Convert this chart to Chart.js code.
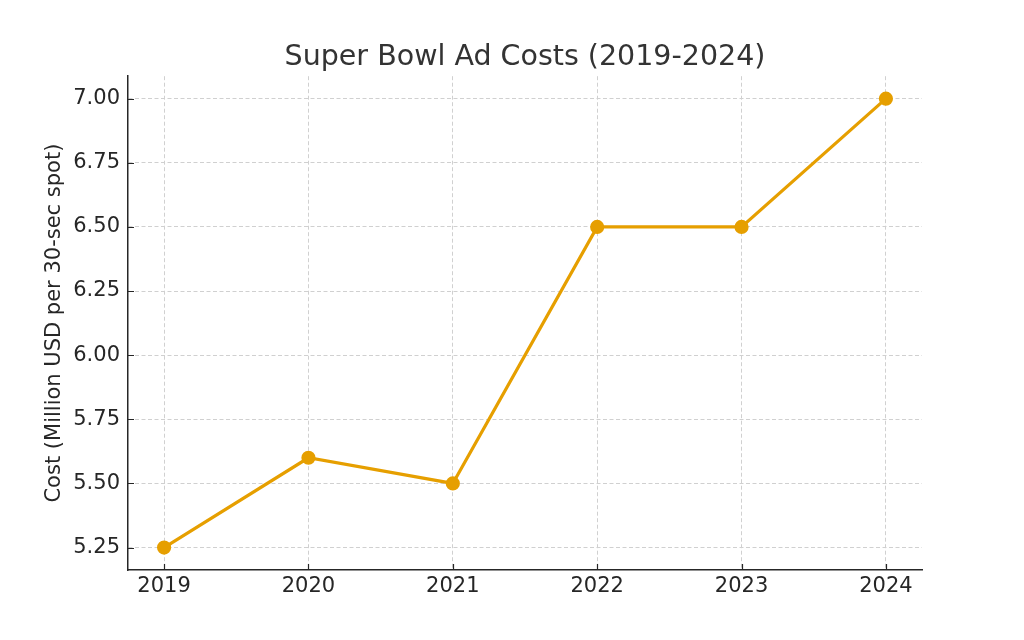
<!DOCTYPE html>
<html>
<head>
<meta charset="utf-8">
<title>Super Bowl Ad Costs</title>
<script src="https://cdn.jsdelivr.net/npm/chart.js@4"></script>
<style>
  html, body { margin: 0; padding: 0; background: #fff; }
  canvas { display: block; }
</style>
</head>
<body>
<canvas id="chart" width="1024" height="640"></canvas>
<script>
(function() {

  // data
  var years = [2019, 2020, 2021, 2022, 2023, 2024];
  var costs = [5.25, 5.6, 5.5, 6.5, 6.5, 7.0];
  var yTicks = [5.25, 5.5, 5.75, 6.0, 6.25, 6.5, 6.75, 7.0];

  var ink = '#262626';
  var font = 'DejaVu Sans';

  // matplotlib style inward tick marks
  var innerTicks = {
    id: 'innerTicks',
    afterDraw: function(chart) {
      var ctx = chart.ctx,
          area = chart.chartArea,
          x = chart.scales.x,
          y = chart.scales.y;
      ctx.save();
      ctx.strokeStyle = ink;
      ctx.lineWidth = 1.2;
      ctx.beginPath();
      years.forEach(function(v) {
        var px = Math.round(x.getPixelForValue(v)) + 0.5;
        ctx.moveTo(px, area.bottom);
        ctx.lineTo(px, area.bottom - 6);
      });
      yTicks.forEach(function(v) {
        var py = Math.round(y.getPixelForValue(v)) + 0.5;
        ctx.moveTo(area.left, py);
        ctx.lineTo(area.left + 6, py);
      });
      ctx.stroke();
      ctx.restore();
    }
  };

  var grid = {
    color: '#d0d0d0',
    lineWidth: 1,
    drawTicks: false
  };
  // in v4 the dash of the grid lines lives under border
  var border = { color: ink, width: 1.5, dash: [4, 2.5] };

  new Chart(document.getElementById('chart'), {
    type: 'line',
    data: {
      datasets: [{
        data: years.map(function(yr, i) { return { x: yr, y: costs[i] }; }),
        borderColor: '#E69F00',
        backgroundColor: '#E69F00',
        borderWidth: 3.2,
        pointRadius: 5.5,
        pointHoverRadius: 5.5,
        tension: 0
      }]
    },
    options: {
      responsive: false,
      animation: false,
      layout: { padding: { left: 0, right: 102, top: 0, bottom: 0 } },
      plugins: {
        legend: { display: false },
        tooltip: { enabled: false },
        title: {
          display: true,
          text: 'Super Bowl Ad Costs (2019-2024)',
          fullSize: false,
          color: '#333333',
          font: { family: font, size: 28.5, weight: 'normal' },
          padding: { top: 40, bottom: 2 }
        }
      },
      scales: {
        x: {
          type: 'linear',
          min: 2018.75,
          max: 2024.25,
          grid: grid,
          border: border,
          afterBuildTicks: function(scale) {
            scale.ticks = years.map(function(v) { return { value: v }; });
          },
          afterFit: function(scale) { scale.height = 70; },
          ticks: {
            color: ink,
            padding: 4,
            font: { family: font, size: 21 },
            callback: function(v) { return String(v); }
          }
        },
        y: {
          min: 5.1625,
          max: 7.0875,
          grid: grid,
          border: border,
          afterBuildTicks: function(scale) {
            scale.ticks = yTicks.map(function(v) { return { value: v }; });
          },
          afterFit: function(scale) { scale.width = 128; },
          ticks: {
            color: ink,
            padding: 8,
            font: { family: font, size: 21 },
            callback: function(v) { return Number(v).toFixed(2); }
          },
          title: {
            display: true,
            text: 'Cost (Million USD per 30-sec spot)',
            color: ink,
            font: { family: font, size: 21 },
            padding: { top: 42, bottom: 0 }
          }
        }
      }
    },
    plugins: [innerTicks]
  });

})();
</script>
</body>
</html>
